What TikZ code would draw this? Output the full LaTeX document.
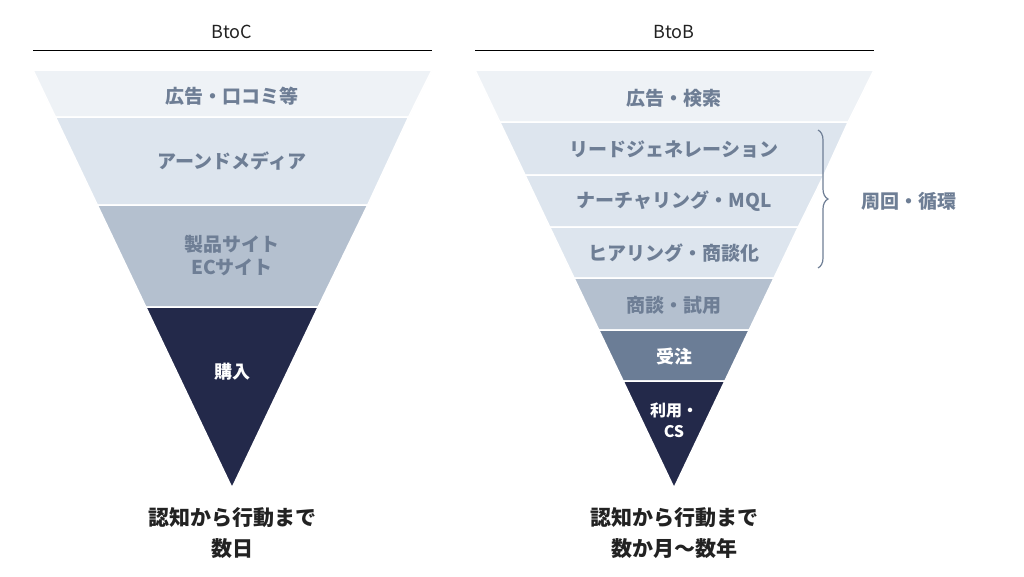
\documentclass[tikz,border=0pt]{standalone}
\usepackage{fontspec}
\setmainfont{Noto Sans CJK JP}
\usepackage{tikz}
\usetikzlibrary{positioning, decorations.pathreplacing}
\definecolor{bandA}{HTML}{EEF2F6}
\definecolor{bandB}{HTML}{DDE5EE}
\definecolor{bandC}{HTML}{B4C0CF}
\definecolor{bandD}{HTML}{6B7D96}
\definecolor{bandE}{HTML}{23294A}
\definecolor{labgray}{HTML}{6E7E95}
\definecolor{inkdark}{HTML}{222222}

\tikzset{
  band/.style={draw=white, line width=1.5pt},
  lab/.style={font=\fontsize{19}{23}\selectfont\bfseries, text=labgray, align=center},
  whitelab/.style={font=\fontsize{18}{22}\selectfont\bfseries, text=white, align=center},
  head/.style={font=\fontsize{18}{22}\selectfont, text=inkdark},
  foot/.style={font=\fontsize{21}{31}\selectfont\bfseries, text=inkdark, align=center}
}

\begin{document}
\begin{tikzpicture}[x=1pt, y=-1pt]
        \useasboundingbox (0,0) rectangle (1024,576);

        % BtoC
        \node[head] (hc) at (232,32) {BtoC};
        \draw (33,50) -- (432,50);
        \fill[band, fill=bandA] (33,70) -- (432,70) -- (408.6,117) -- (55.4,117) -- cycle;
        \fill[band, fill=bandB] (55.4,117) -- (408.6,117) -- (367.7,205) -- (97.3,205) -- cycle;
        \fill[band, fill=bandC] (97.3,205) -- (367.7,205) -- (318.2,307) -- (145.8,307) -- cycle;
        \fill[band, fill=bandE] (145.8,307) -- (318.2,307) -- (232,488) -- cycle;
        \node[lab] (c1) at (232,96) {広告・口コミ等};
        \node[lab] (c2) at (232,161) {アーンドメディア};
        \node[lab] (c3) at (232,256) {製品サイト\\ECサイト};
        \node[whitelab] (c4) at (232,372) {購入};
        \node[foot] (fc) at (232,533) {認知から行動まで\\数日};

        % BtoB
        \node[head] (hb) at (674,32) {BtoB};
        \draw (475,50) -- (874,50);
        \fill[band, fill=bandA] (475,70) -- (874,70) -- (848.2,122) -- (499.8,122) -- cycle;
        \fill[band, fill=bandB] (499.8,122) -- (848.2,122) -- (824,175) -- (525,175) -- cycle;
        \fill[band, fill=bandB] (525,175) -- (824,175) -- (798.3,227) -- (549.7,227) -- cycle;
        \fill[band, fill=bandB] (549.7,227) -- (798.3,227) -- (774,278) -- (574,278) -- cycle;
        \fill[band, fill=bandC] (574,278) -- (774,278) -- (749.2,330) -- (598.8,330) -- cycle;
        \fill[band, fill=bandD] (598.8,330) -- (749.2,330) -- (724.9,381) -- (623.1,381) -- cycle;
        \fill[band, fill=bandE] (623.1,381) -- (724.9,381) -- (674,488) -- cycle;
        \node[lab] (b1) at (674,98) {広告・検索};
        \node[lab] (b2) at (674,149) {リードジェネレーション};
        \node[lab] (b3) at (674,201) {ナーチャリング・MQL};
        \node[lab] (b4) at (674,253) {ヒアリング・商談化};
        \node[lab] (b5) at (674,305) {商談・試用};
        \node[whitelab] (b6) at (674,356) {受注};
        \node[whitelab, font=\fontsize{16}{21}\selectfont\bfseries] (b7) at (674,420) {利用・\\CS};
        \node[foot] (fb) at (674,533) {認知から行動まで\\数か月〜数年};

        % loop brace
        \coordinate (bt) at (818,130);
        \coordinate (bb) at (818,268);
        \draw[labgray, line width=1.2pt, decoration={brace, amplitude=10pt}, decorate] (bt) -- (bb);
        \node[lab, anchor=west] (loop) at (858,201) {周回・循環};
\end{tikzpicture}
\end{document}
